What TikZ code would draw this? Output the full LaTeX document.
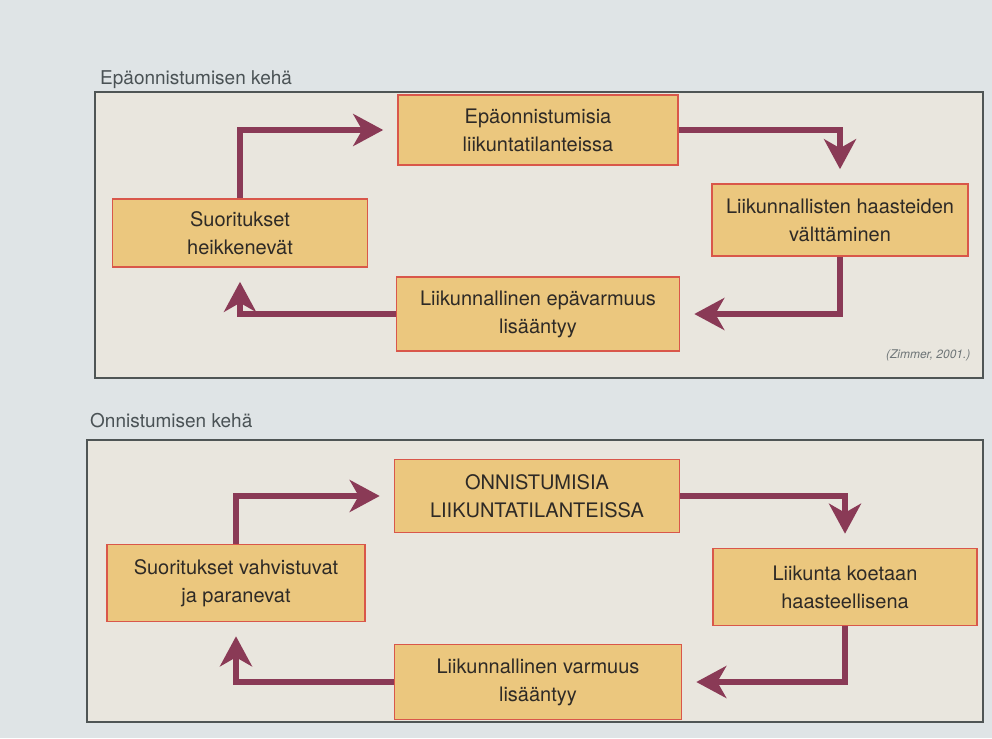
\documentclass[tikz,border=0pt]{standalone}
\usepackage{fontspec}
\setmainfont{TeX Gyre Heros}
\usetikzlibrary{arrows.meta}
\definecolor{pagebg}{HTML}{DFE4E6}
\definecolor{panelbg}{HTML}{E9E6DE}
\definecolor{panelline}{HTML}{4F5555}
\definecolor{boxfill}{HTML}{EBC77E}
\definecolor{boxline}{HTML}{D9574A}
\definecolor{arrowcol}{HTML}{8A3A56}
\definecolor{txt}{HTML}{2E2A26}
\definecolor{titletxt}{HTML}{4A5255}
\begin{document}
\begin{tikzpicture}[x=1pt,y=-1pt,
  panel/.style={draw=panelline, line width=1.5pt, fill=panelbg},
  cbox/.style={draw=boxline, line width=1.6pt, fill=boxfill, text=txt, align=center,
    font=\fontsize{20}{28}\selectfont, inner sep=0pt},
  ptitle/.style={anchor=west, text=titletxt, font=\fontsize{19}{22}\selectfont, inner sep=0pt},
  arr/.style={draw=arrowcol, line width=6.5pt, line join=miter,
    -{Stealth[length=30pt, width=32pt, inset=9pt]}, shorten >=14pt}
]
\useasboundingbox (0,0) rectangle (992,738);
\fill[pagebg] (0,0) rectangle (992,738);

% ---------- top panel ----------
\node[ptitle] (t1) at (100,80) {Epäonnistumisen kehä};
\draw[panel] (95,92) rectangle (983,378);

\node[cbox, minimum width=280pt, minimum height=70pt] (a1) at (538,130) {Epäonnistumisia\\liikuntatilanteissa};
\node[cbox, minimum width=256pt, minimum height=72pt] (b1) at (840,220) {Liikunnallisten haasteiden\\välttäminen};
\node[cbox, minimum width=283pt, minimum height=74pt] (c1) at (538,314) {Liikunnallinen epävarmuus\\lisääntyy};
\node[cbox, minimum width=255pt, minimum height=68pt] (d1) at (240,233) {Suoritukset\\heikkenevät};
\node[anchor=east, text=titletxt!80, font=\fontsize{12}{14}\itshape] (z) at (974,355) {(Zimmer, 2001.)};

\draw[arr] (d1.north) |- (a1.west);
\draw[arr] (a1.east) -| (b1.north);
\draw[arr] (b1.south) |- (c1.east);
\draw[arr] (c1.west) -| (d1.south);

% ---------- bottom panel ----------
\node[ptitle] (t2) at (90,421) {Onnistumisen kehä};
\draw[panel] (87,440) rectangle (983,722);

\node[cbox, minimum width=285pt, minimum height=73pt] (a2) at (537,496) {ONNISTUMISIA\\LIIKUNTATILANTEISSA};
\node[cbox, minimum width=264pt, minimum height=77pt] (b2) at (845,587) {Liikunta koetaan\\haasteellisena};
\node[cbox, minimum width=287pt, minimum height=75pt] (c2) at (538,682) {Liikunnallinen varmuus\\lisääntyy};
\node[cbox, minimum width=258pt, minimum height=77pt] (d2) at (236,583) {Suoritukset vahvistuvat\\ja paranevat};

\draw[arr] (d2.north) |- (a2.west);
\draw[arr] (a2.east) -| (b2.north);
\draw[arr] (b2.south) |- (c2.east);
\draw[arr] (c2.west) -| (d2.south);
\end{tikzpicture}
\end{document}
